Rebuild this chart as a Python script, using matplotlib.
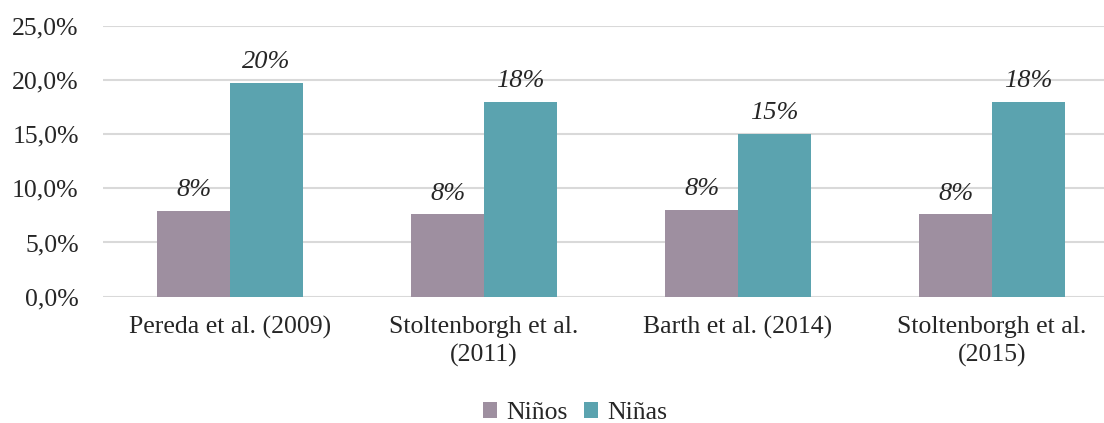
import numpy as np
import matplotlib.pyplot as plt

estudios = ["Pereda et al. (2009)", "Stoltenborgh et al.\n(2011)",
            "Barth et al. (2014)", "Stoltenborgh et al.\n(2015)"]
ninos = [7.9, 7.6, 8.0, 7.6]
ninas = [19.7, 18.0, 15.0, 18.0]
yticks = [0, 5, 10, 15, 20, 25]

plt.rcParams["font.family"] = ["Liberation Serif", "DejaVu Serif"]
txt_color = "#262626"

fig = plt.figure(figsize=(11.04, 4.23), dpi=100)
ax = fig.add_axes([103 / 1104, 1 - 296.7 / 423, 1016 / 1104, (296.7 - 25.7) / 423])

x = np.arange(len(estudios))
w = 1 / 3.5
b1 = ax.bar(x - w / 2, ninos, w, color="#9E8FA0", label="Niños", zorder=3)
b2 = ax.bar(x + w / 2, ninas, w, color="#5BA3AF", label="Niñas", zorder=3)

for bars, vals in ((b1, ninos), (b2, ninas)):
    for rect, v in zip(bars, vals):
        ax.annotate(f"{v:.0f}%", (rect.get_x() + rect.get_width() / 2, v),
                    xytext=(0, 7), textcoords="offset points",
                    ha="center", va="bottom", fontsize=19, style="italic",
                    color=txt_color)

ax.set_xlim(-0.5, len(estudios) - 0.5)
ax.set_ylim(0, 25)
ax.set_yticks(yticks)
ax.set_yticklabels([f"{t:.1f}%".replace(".", ",") for t in yticks])
ax.set_xticks(x)
ax.set_xticklabels(estudios, linespacing=1.35)
ax.tick_params(axis="y", length=0, pad=17.5, labelsize=18.5, colors=txt_color)
ax.tick_params(axis="x", length=0, pad=14, labelsize=18.5, colors=txt_color)

ax.yaxis.grid(True, color="#D9D9D9", linewidth=1.5, zorder=0)
for s in ax.spines.values():
    s.set_visible(False)

fig.legend(loc="center", bbox_to_anchor=(575 / 1104, 1 - 413 / 423),
           ncol=2, frameon=False, fontsize=18.5, handlelength=0.55,
           handleheight=0.55, handletextpad=0.35, columnspacing=0.65,
           labelcolor=txt_color)

fig.savefig("out.png", dpi=100)
